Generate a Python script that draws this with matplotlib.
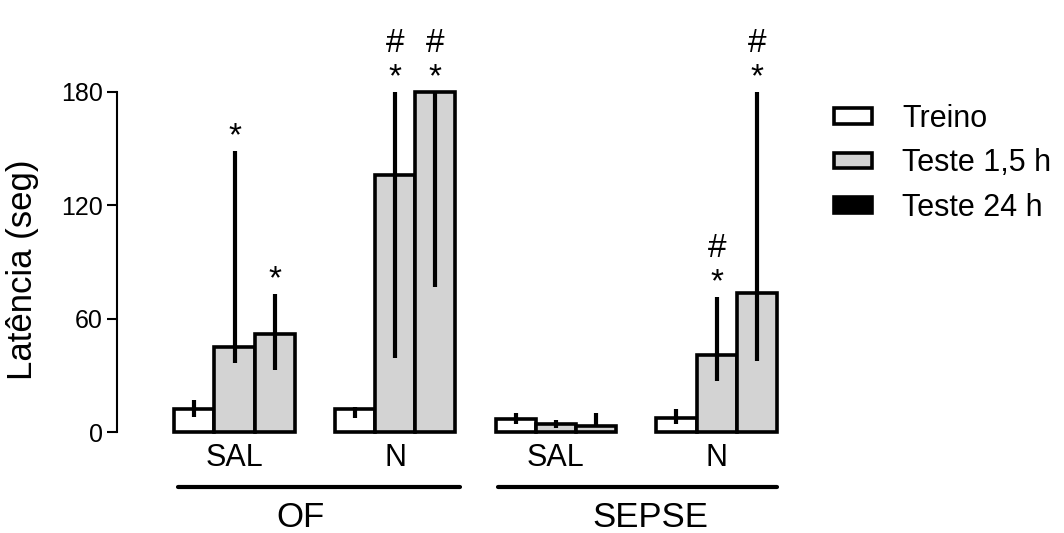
import matplotlib
matplotlib.use("Agg")
import matplotlib.pyplot as plt
from matplotlib.patches import Patch
from matplotlib.transforms import blended_transform_factory

plt.rcParams['font.family'] = ['Liberation Sans', 'DejaVu Sans']

# ---------------- data ----------------
groups = ['SAL', 'N', 'SAL', 'N']
big_groups = ['OF', 'SEPSE']
series = ['Treino', 'Teste 1,5 h', 'Teste 24 h']

treino = [12, 12, 7, 7.5]
teste15 = [45, 136, 4, 41]
teste24 = [52, 180, 3, 73.5]

# lower / upper ends of the error bars
treino_lo = [8, 7.5, 4.5, 4.2]
treino_hi = [17, 13.5, 10, 12.2]
teste15_lo = [36.5, 39, 2, 27]
teste15_hi = [149, 180, 6.5, 71.5]
teste24_lo = [33, 77, 3, 37.5]
teste24_hi = [73, 180, 10, 180]

# significance marks per bar (treino, 1,5 h, 24 h)
marks = [['', '*', '*'],
         ['', '*#', '*#'],
         ['', '', ''],
         ['', '*#', '*#']]

values = [treino, teste15, teste24]
lows = [treino_lo, teste15_lo, teste24_lo]
highs = [treino_hi, teste15_hi, teste24_hi]
bar_colors = ['white', '#d3d3d3', '#d3d3d3']
legend_colors = ['white', '#d3d3d3', 'black']

# ---------------- figure ----------------
fig = plt.figure(figsize=(10.64, 5.33), dpi=100)
ax = fig.add_axes([117/1064, 101/533, 683/1064, 340/533])

centers = [4*g for g in range(len(groups))]
for s in range(3):
    xs = [c + (s - 1) for c in centers]
    v = values[s]
    yerr = [[v[i] - lows[s][i] for i in range(len(v))],
            [highs[s][i] - v[i] for i in range(len(v))]]
    ax.bar(xs, v, width=1.0, color=bar_colors[s], edgecolor='black',
           linewidth=2.6, clip_on=False, zorder=2)
    ax.errorbar(xs, v, yerr=yerr, fmt='none', ecolor='black',
                elinewidth=3.0, capsize=0, clip_on=False, zorder=3)
    for i in range(len(v)):
        m = marks[i][s]
        if '*' in m:
            ax.annotate('*', (xs[i], highs[s][i]), xytext=(0, 4),
                        textcoords='offset points', ha='center',
                        va='baseline', fontsize=24, annotation_clip=False)
        if '#' in m:
            ax.annotate('#', (xs[i], highs[s][i]), xytext=(0, 29),
                        textcoords='offset points', ha='center',
                        va='baseline', fontsize=24, annotation_clip=False)

ax.set_xlim(-2.925, 14.075)
ax.set_ylim(0, 180)
ax.set_yticks([0, 60, 120, 180])
ax.set_xticks(centers)
ax.set_xticklabels(groups)
ax.tick_params(axis='y', labelsize=18, length=7, width=1.5, pad=3)
ax.tick_params(axis='x', labelsize=22, length=0, pad=8)

for sp in ['top', 'right', 'bottom']:
    ax.spines[sp].set_visible(False)
ax.spines['left'].set_linewidth(1.5)
ax.spines['left'].set_bounds(0, 180)

# group lines and labels
tr = blended_transform_factory(ax.transData, ax.transAxes)
ax.plot([-1.4, 5.6], [-0.162, -0.162], color='black', lw=3,
        transform=tr, clip_on=False, solid_capstyle='round')
ax.plot([6.55, 13.5], [-0.162, -0.162], color='black', lw=3,
        transform=tr, clip_on=False, solid_capstyle='round')
ax.text(1.65, -0.279, big_groups[0], transform=tr, ha='center',
        va='baseline', fontsize=25)
ax.text(10.35, -0.279, big_groups[1], transform=tr, ha='center',
        va='baseline', fontsize=25)

fig.text(23/1064, 1 - 270/533, 'Latência (seg)', rotation=90,
         ha='center', va='center', fontsize=25)

handles = [Patch(facecolor=legend_colors[i], edgecolor='black',
                 linewidth=2.6) for i in range(3)]
fig.legend(handles, series, loc='upper left',
           bbox_to_anchor=(834/1064, 1 - 104/533), frameon=False,
           fontsize=22, handlelength=1.24, handleheight=0.42,
           handletextpad=1.0, labelspacing=0.47, borderpad=0,
           borderaxespad=0)

fig.savefig('out.png', dpi=100)
